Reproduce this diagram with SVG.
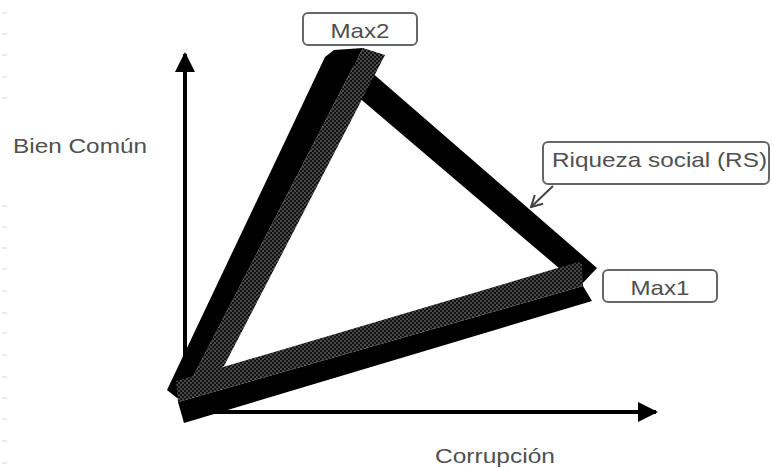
<svg xmlns="http://www.w3.org/2000/svg" width="772" height="470" viewBox="0 0 772 470">
<defs>
<pattern id="dots" width="4" height="4" patternUnits="userSpaceOnUse">
<rect width="4" height="4" fill="#111"/>
<circle cx="1" cy="1" r="0.75" fill="#9a9a9a"/>
<circle cx="3" cy="3" r="0.75" fill="#9a9a9a"/>
</pattern>
<marker id="solid" viewBox="0 0 20 20" refX="18" refY="10" markerWidth="20" markerHeight="20" markerUnits="userSpaceOnUse" orient="auto">
<path d="M0,0 L20,10 L0,20 z" fill="#000"/>
</marker>
<marker id="open" viewBox="0 0 14 14" refX="12" refY="7" markerWidth="14" markerHeight="14" markerUnits="userSpaceOnUse" orient="auto">
<path d="M1,1 L12,7 L1,13" fill="none" stroke="#444" stroke-width="2"/>
</marker>
</defs>
<style>
.axis{stroke:#000;stroke-width:4;fill:none}
.lbl{font-family:"Liberation Sans",Arial,sans-serif;font-size:21px;fill:#505050}
.box{fill:#fff;stroke:#666;stroke-width:2}
.blk{fill:#000}
.chk{fill:url(#dots)}
.tick{stroke:#d4d4d4;stroke-width:1}
</style>
<rect width="772" height="470" fill="#fff"/>
<g id="ticks">
<path class="tick" d="M2,13h5M2,34h5M2,55h5M2,77h5M2,98h5M2,206h5M2,227h5M2,248h5M2,269h5M2,291h5M2,313h5M2,333h5M2,355h5M2,377h5M2,398h5M2,419h5M2,441h5M2,463h5"/>
</g>
<g id="connectors">
<line class="axis" x1="185" y1="385" x2="185" y2="54" marker-end="url(#solid)"/>
<line class="axis" x1="200" y1="412" x2="656" y2="412" marker-end="url(#solid)"/>
<line x1="553" y1="186" x2="531" y2="207" stroke="#444" stroke-width="2" marker-end="url(#open)"/>
</g>
<g id="triangle">
<polygon class="blk" points="355,58 597,268 580,286 350,90"/>
<polygon class="blk" points="167,390 325,57 334,50 363,48 182,398 177,398"/>
<polygon class="chk" points="363,48 385,55 224,366 183,396"/>
<polygon class="blk" points="178,402 583,286 592,301 184,423"/>
<polygon class="chk" points="176,381 578,262 582,264 583,286 178,402"/>
</g>
<g id="max2">
<rect class="box" x="303" y="13" width="114" height="32" rx="5"/>
<text class="lbl" x="360" y="38" text-anchor="middle" textLength="59" lengthAdjust="spacingAndGlyphs">Max2</text>
</g>
<g id="max1">
<rect class="box" x="603" y="270" width="114" height="32" rx="5"/>
<text class="lbl" x="660" y="295" text-anchor="middle" textLength="59" lengthAdjust="spacingAndGlyphs">Max1</text>
</g>
<g id="riqueza">
<rect class="box" x="543" y="142" width="226" height="42" rx="5"/>
<text class="lbl" x="552" y="167" textLength="215" lengthAdjust="spacingAndGlyphs">Riqueza social (RS)</text>
</g>
<g id="bien-comun">
<text class="lbl" x="13" y="153" textLength="134" lengthAdjust="spacingAndGlyphs">Bien Común</text>
</g>
<g id="corrupcion">
<text class="lbl" x="435" y="463" textLength="120" lengthAdjust="spacingAndGlyphs">Corrupción</text>
</g>
</svg>
